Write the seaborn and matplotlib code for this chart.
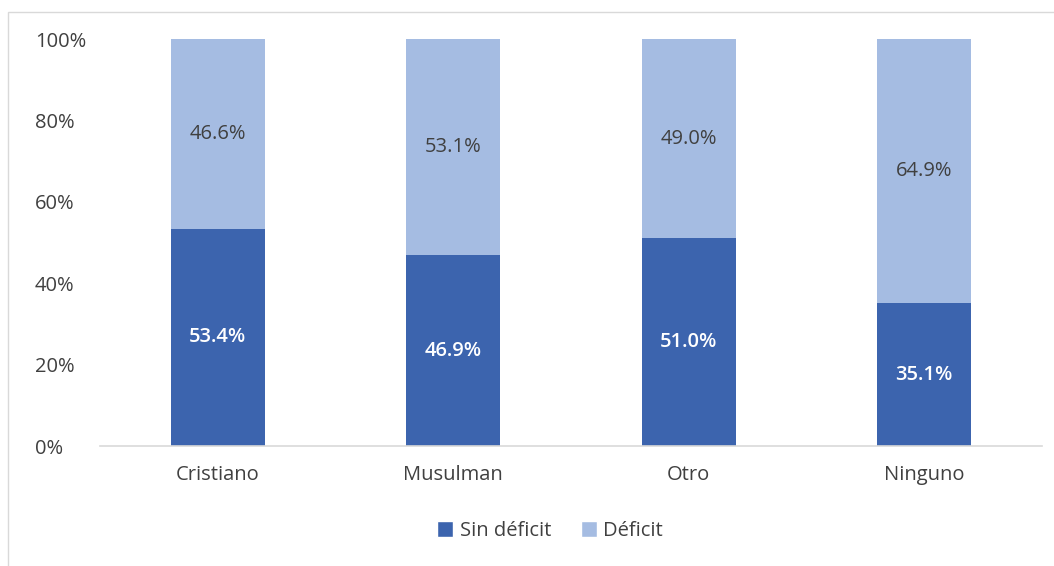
import pandas as pd
import seaborn as sns
import matplotlib.pyplot as plt
from matplotlib.patches import Rectangle, Patch

# datos
categorias = ['Cristiano', 'Musulman', 'Otro', 'Ninguno']
sin_deficit = [53.4, 46.9, 51.0, 35.1]
deficit = [46.6, 53.1, 49.0, 64.9]

color_sin = '#3c64ae'
color_def = '#a5bce2'

df = pd.DataFrame({'cat': categorias, 'sin': sin_deficit, 'def': deficit})
df['total'] = df['sin'] + df['def']

sns.set_style('white')
plt.rcParams['font.family'] = ['Open Sans', 'DejaVu Sans']

fig = plt.figure(figsize=(10.54, 5.66), dpi=100)
ax = fig.add_axes([0.0949, 0.212, 0.8937, 0.719])

# barras apiladas: total (claro) debajo, sin deficit (oscuro) encima
sns.barplot(data=df, x='cat', y='total', color=color_def, width=0.4,
            saturation=1, ax=ax, linewidth=0)
sns.barplot(data=df, x='cat', y='sin', color=color_sin, width=0.4,
            saturation=1, ax=ax, linewidth=0)

# etiquetas
for i, (s, d) in enumerate(zip(sin_deficit, deficit)):
    ax.text(i, s / 2, f'{s:.1f}%', ha='center', va='center',
            color='white', fontsize=14.5, fontweight='semibold')
    ax.text(i, s + d / 2, f'{d:.1f}%', ha='center', va='center',
            color='#404040', fontsize=14.5)

ax.set_xlim(-0.5, 3.5)
ax.set_ylim(0, 100)
ax.set_yticks([0, 20, 40, 60, 80, 100])
ax.set_yticklabels([f'{v}%' for v in [0, 20, 40, 60, 80, 100]], ha='left')
ax.set_xlabel('')
ax.set_ylabel('')
ax.tick_params(axis='both', labelsize=14.5, colors='#404040', length=0)
ax.tick_params(axis='y', pad=47)
ax.tick_params(axis='x', pad=14)

for side in ['top', 'right', 'left']:
    ax.spines[side].set_visible(False)
ax.spines['bottom'].set_color('#d9d9d9')
ax.spines['bottom'].set_linewidth(1.2)

# leyenda
handles = [Patch(facecolor=color_sin, label='Sin déficit'),
           Patch(facecolor=color_def, label='Déficit')]
fig.legend(handles=handles, loc='center', bbox_to_anchor=(0.522, 0.062),
           ncol=2, frameon=False, fontsize=14.5, handlelength=0.8,
           handleheight=0.8, handletextpad=0.3, columnspacing=1.5,
           labelcolor='#404040')

# marco del grafico
fig.patches.append(Rectangle((0.0076, -0.01), 1.1, 0.989,
                             transform=fig.transFigure, fill=False,
                             edgecolor='#d9d9d9', linewidth=1))

fig.savefig('out.png', dpi=100)
